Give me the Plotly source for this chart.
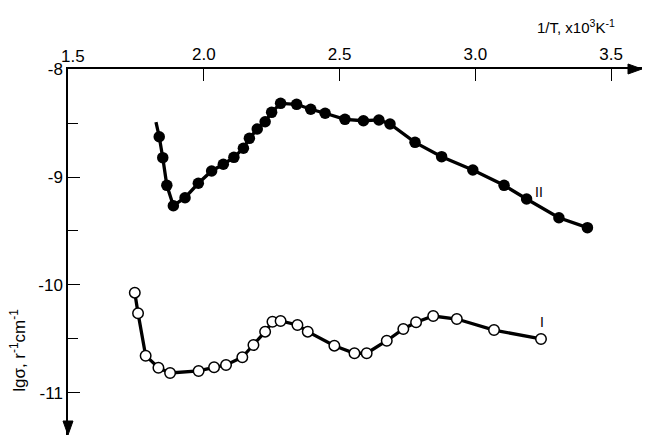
import plotly.graph_objects as go

# Curve II (filled circles); first point is the start of the line (no marker)
x2 = [1.824, 1.836, 1.849, 1.864, 1.888, 1.931, 1.980, 2.029, 2.072, 2.111, 2.146, 2.168,
      2.197, 2.226, 2.250, 2.283, 2.342, 2.394, 2.447, 2.520, 2.588, 2.645, 2.686,
      2.778, 2.876, 2.991, 3.106, 3.189, 3.308, 3.413]
y2 = [-8.491, -8.627, -8.821, -9.077, -9.266, -9.192, -9.058, -8.944, -8.882, -8.818, -8.734, -8.642,
      -8.556, -8.488, -8.401, -8.318, -8.327, -8.373, -8.410, -8.466, -8.479, -8.472, -8.509,
      -8.679, -8.812, -8.935, -9.077, -9.204, -9.377, -9.469]

# Curve I (open circles)
x1 = [1.746, 1.758, 1.786, 1.833, 1.876, 1.981, 2.038, 2.082, 2.142, 2.183, 2.226, 2.253,
      2.283, 2.345, 2.383, 2.481, 2.555, 2.600, 2.674, 2.735, 2.782, 2.845, 2.932, 3.069, 3.242]
y1 = [-10.071, -10.262, -10.655, -10.766, -10.815, -10.796, -10.762, -10.741, -10.669, -10.556,
      -10.432, -10.340, -10.333, -10.370, -10.432, -10.562, -10.632, -10.632, -10.516, -10.407,
      -10.345, -10.287, -10.315, -10.417, -10.500]

xticks = [1.5, 2.0, 2.5, 3.0, 3.5]
xticktext = ["1.5", "2.0", "2.5", "3.0", "3.5"]
yticks = [-8, -9, -10, -11]
yticktext = ["-8", "-9", "-10", "-11"]
yminor = [-8.5, -9.5, -10.5]

XMIN, XMAX = 1.5, 3.614
YMIN, YMAX = -11.389, -8.0

W, H = 645, 439
ML, MR, MT, MB = 68, 3, 69, 4
PW, PH = W - ML - MR, H - MT - MB

FONT = "Liberation Sans"

fig = go.Figure()
fig.add_trace(go.Scatter(x=x2, y=y2, mode="lines", line=dict(color="black", width=3.3),
                         showlegend=False, hoverinfo="skip"))
fig.add_trace(go.Scatter(x=x2[1:], y=y2[1:], mode="markers",
                         marker=dict(color="black", size=11.5, line=dict(width=0)),
                         showlegend=False))
fig.add_trace(go.Scatter(x=x1, y=y1, mode="lines+markers",
                         line=dict(color="black", width=3.3),
                         marker=dict(color="white", size=10.5, line=dict(color="black", width=1.5)),
                         showlegend=False))

fig.update_xaxes(range=[XMIN, XMAX], side="top", showgrid=False, zeroline=False,
                 showline=True, linecolor="black", linewidth=1.5,
                 tickvals=xticks[1:], ticktext=xticktext[1:], ticks="inside", ticklen=12,
                 tickwidth=1.3, tickcolor="black", ticklabelstandoff=0,
                 tickfont=dict(family=FONT, size=17, color="black"))
fig.update_yaxes(range=[YMIN, YMAX], showgrid=False, zeroline=False,
                 showline=True, linecolor="black", linewidth=1.5,
                 tickvals=yticks, ticktext=yticktext, ticks="inside", ticklen=12,
                 tickwidth=1.3, tickcolor="black",
                 minor=dict(tickvals=yminor, ticks="inside", ticklen=10,
                            tickwidth=1.3, tickcolor="black"),
                 tickfont=dict(family=FONT, size=17, color="black"))

# arrow heads in paper coordinates (axis decoration)
ax_len, ax_half = 14 / PW, 5 / PH
ay_len, ay_half = 14 / PH, 5 / PW
shapes = [
    dict(type="path", xref="paper", yref="paper",
         path=f"M 1 1 L {1 - ax_len:.5f} {1 + ax_half:.5f} L {1 - ax_len:.5f} {1 - ax_half:.5f} Z",
         fillcolor="black", line=dict(color="black", width=1)),
    dict(type="path", xref="paper", yref="paper",
         path=f"M 0 0 L {-ay_half:.5f} {ay_len:.5f} L {ay_half:.5f} {ay_len:.5f} Z",
         fillcolor="black", line=dict(color="black", width=1)),
]

annotations = [
    dict(x=1.5, y=YMAX, xref="x", yref="y", text="1.5", showarrow=False,
         xanchor="center", yanchor="bottom", xshift=5, yshift=1,
         font=dict(family=FONT, size=17, color="black")),
    dict(x=3.5, y=YMAX, xref="x", yref="y", text="1/T, x10<sup>3</sup>K<sup>-1</sup>",
         showarrow=False, xanchor="right", yanchor="bottom", yshift=31, xshift=6,
         font=dict(family=FONT, size=15, color="black")),
    dict(x=0, y=0.23, xref="paper", yref="paper", text="lgσ, r<sup>-1</sup>cm<sup>-1</sup>",
         showarrow=False, textangle=-90, xanchor="center", yanchor="middle", xshift=-50,
         font=dict(family=FONT, size=17, color="black")),
    dict(x=3.235, y=-9.14, xref="x", yref="y", text="II", showarrow=False,
         font=dict(family=FONT, size=14, color="black")),
    dict(x=3.245, y=-10.34, xref="x", yref="y", text="I", showarrow=False,
         font=dict(family=FONT, size=14, color="black")),
]

fig.update_layout(width=W, height=H, margin=dict(l=ML, r=MR, t=MT, b=MB),
                  paper_bgcolor="white", plot_bgcolor="white",
                  annotations=annotations, shapes=shapes, showlegend=False)

fig.write_html("out.html", config={"displayModeBar": False},
               post_script="document.body.style.margin='0px';")
